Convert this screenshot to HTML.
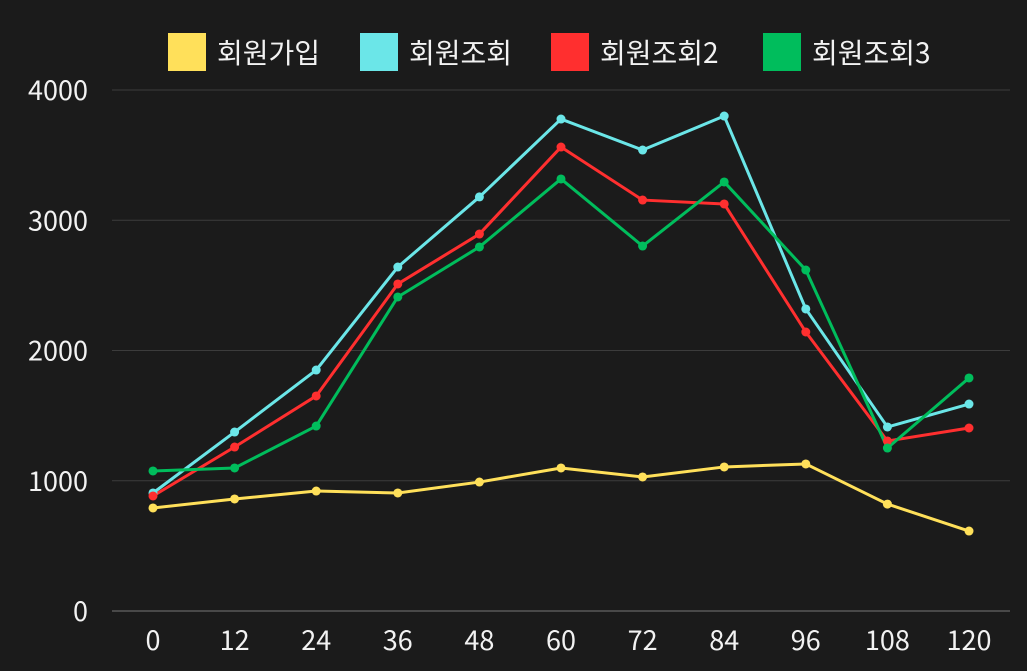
<!DOCTYPE html>
<html><head><meta charset="utf-8"><style>
html,body{margin:0;padding:0;background:#1b1b1b;}
svg{display:block;font-family:"Noto Sans CJK KR","Liberation Sans",sans-serif;}
</style></head><body>
<svg id="c" width="1027" height="671"></svg>
<script>
const categories=[0,12,24,36,48,60,72,84,96,108,120];
const yTicks=[0,1000,2000,3000,4000];
const seriesNames=["회원가입","회원조회","회원조회2","회원조회3"];
const seriesColors=["#ffe05a","#6be6e8","#ff2f2f","#00bd5c"];
const s1=[791,860,921,906,990,1098,1029,1106,1129,821,614];
const s2=[906,1374,1850,2641,3179,3777,3539,3800,2319,1413,1589];
const s3=[883,1259,1651,2511,2894,3562,3155,3125,2142,1305,1405];
const s4=[1075,1098,1420,2411,2795,3317,2802,3294,2618,1251,1789];
const allSeries=[s1,s2,s3,s4];
const svg=document.getElementById('c');
const NS='http://www.w3.org/2000/svg';
const x=i=>153+i*(969-153)/(categories.length-1);
const y=v=>611-v*(611-90)/4000;
function mk(t,a){const e=document.createElementNS(NS,t);for(const k in a)e.setAttribute(k,a[k]);svg.appendChild(e);return e;}
yTicks.forEach(v=>{
  const l=mk('line',{x1:112,x2:1010,y1:y(v),y2:y(v),stroke:v===0?'#777':'#3c3c3c','stroke-width':1});
  
  
  const t=mk('text',{x:88,y:y(v)+10,fill:'#f2f2f2','font-size':27,'text-anchor':'end'});
  t.textContent=v;
  
  
});
categories.forEach((c,i)=>{
  const t=mk('text',{x:x(i),y:650,fill:'#f2f2f2','font-size':27,'text-anchor':'middle'});
  t.textContent=c;
  
  
});
allSeries.forEach((s,si)=>{
  const p=mk('polyline',{points:s.map((v,i)=>x(i)+','+y(v)).join(' '),fill:'none',stroke:seriesColors[si],'stroke-width':3,'stroke-linejoin':'round'});
  
  
});
allSeries.forEach((s,si)=>{
  s.forEach((v,i)=>{
    const d=mk('circle',{cx:x(i),cy:y(v),r:4.5,fill:seriesColors[si]});
    
    
  });
});
const legX=[168,360,551,763];
seriesNames.forEach((n,i)=>{
  const r=mk('rect',{x:legX[i],y:33,width:38,height:38,fill:seriesColors[i]});
  
  
  const t=mk('text',{x:legX[i]+49,y:63,fill:'#f2f2f2','font-size':28});
  t.textContent=n;
  
  
});
</script>
</body></html>
